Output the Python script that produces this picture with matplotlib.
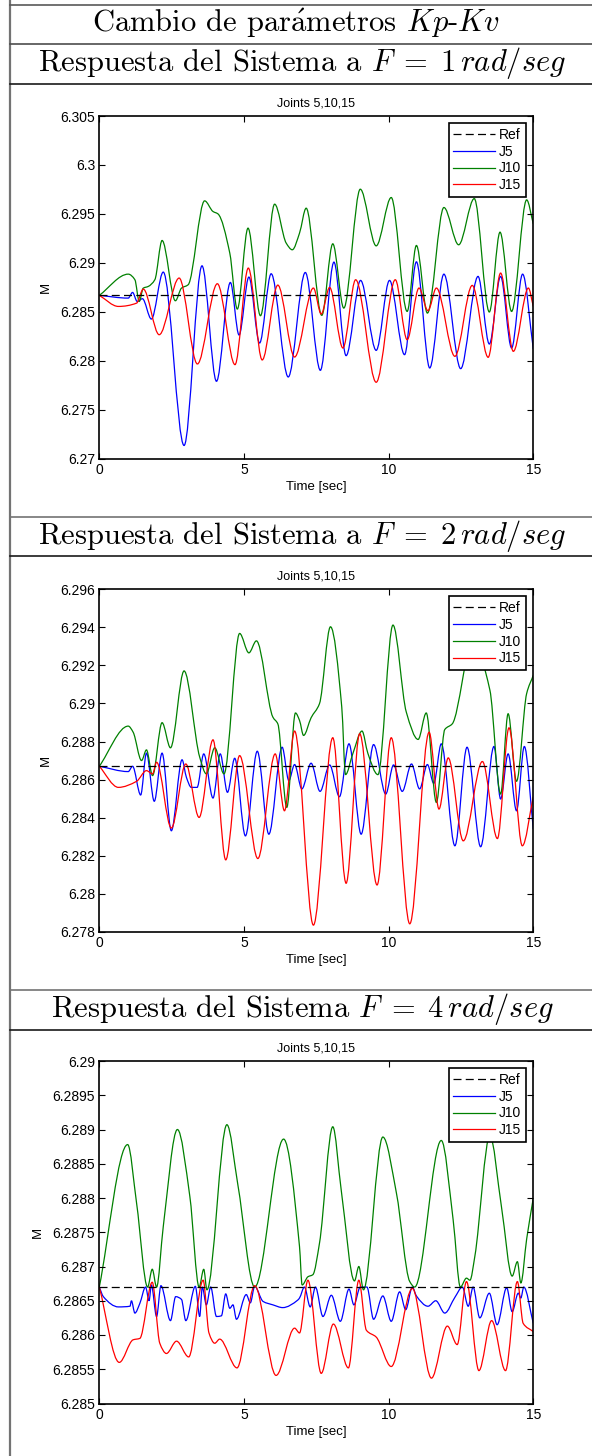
import matplotlib
matplotlib.use("Agg")
import matplotlib.pyplot as plt
from matplotlib.lines import Line2D
from matplotlib.path import Path
from matplotlib.patches import PathPatch

plt.rcParams["mathtext.fontset"] = "cm"
plt.rcParams["font.family"] = ["Liberation Sans", "DejaVu Sans"]

REF = 6.2867

# ---------------- panel 1 : F = 1 rad/seg ----------------
t1_j5 = [0, 1.00, 1.15, 1.31, 1.49, 1.80, 2.21, 2.93, 3.55, 4.05, 4.53, 4.83, 5.17, 5.54, 5.94, 6.53,
         7.12, 7.64, 8.11, 8.53, 9.03, 9.57, 10.03, 10.55, 10.96, 11.42, 11.91, 12.49, 13.09, 13.48,
         13.87, 14.25, 14.63, 15.0]
y1_j5 = [6.28667, 6.28639, 6.28697, 6.28605, 6.28633, 6.28425, 6.28905, 6.27133, 6.28969, 6.27789,
         6.28799, 6.28262, 6.28854, 6.28180, 6.28888, 6.27833, 6.28901, 6.27901, 6.29007, 6.28051,
         6.28820, 6.28105, 6.28820, 6.28061, 6.29010, 6.27925, 6.28884, 6.27918, 6.28861, 6.28170,
         6.28861, 6.28129, 6.28884, 6.28119]
t1_j10 = [0, 1.00, 1.23, 1.38, 1.52, 1.69, 1.92, 2.17, 2.63, 2.84, 3.07, 3.64, 3.93, 4.10, 4.51, 4.77,
          5.14, 5.57, 6.06, 6.46, 6.67, 6.92, 7.15, 7.69, 8.07, 8.45, 9.02, 9.57, 10.09, 10.64, 10.96,
          11.34, 11.91, 12.42, 12.96, 13.48, 13.85, 14.25, 14.77, 15.0]
y1_j10 = [6.28667, 6.28884, 6.28827, 6.28605, 6.28741, 6.28758, 6.28827, 6.29228, 6.28612, 6.28741,
          6.28775, 6.29633, 6.29524, 6.29500, 6.29099, 6.28527, 6.29354, 6.28459, 6.29599, 6.29201,
          6.29133, 6.29303, 6.29558, 6.28463, 6.29194, 6.28537, 6.29752, 6.29173, 6.29667, 6.28503,
          6.29177, 6.28486, 6.29565, 6.29184, 6.29656, 6.28497, 6.29313, 6.28503, 6.29643, 6.29398]
t1_j15 = [0, 0.66, 1.29, 1.52, 2.07, 2.76, 3.39, 4.08, 4.69, 5.15, 5.63, 6.17, 6.75, 7.40, 7.67, 7.96,
          8.42, 8.86, 9.57, 10.23, 10.64, 11.05, 11.36, 11.65, 12.29, 12.89, 13.44, 13.87, 14.31,
          14.83, 15.0]
y1_j15 = [6.28667, 6.28554, 6.28588, 6.28731, 6.28265, 6.28844, 6.27966, 6.28786, 6.27959, 6.28946,
          6.28007, 6.28772, 6.28037, 6.28742, 6.28476, 6.28748, 6.28129, 6.28827, 6.27779, 6.28827,
          6.28214, 6.28742, 6.28510, 6.28742, 6.28044, 6.28769, 6.28034, 6.28895, 6.28095, 6.28742,
          6.28554]

# ---------------- panel 2 : F = 2 rad/seg ----------------
t2_j5 = [0, 1.00, 1.15, 1.43, 1.63, 1.90, 2.17, 2.49, 2.86, 3.01, 3.18, 3.38, 3.61, 3.93, 4.18, 4.43,
         4.68, 5.05, 5.46, 5.86, 6.32, 6.55, 6.75, 7.00, 7.32, 7.63, 7.96, 8.30, 8.63, 9.05, 9.48,
         9.90, 10.17, 10.47, 10.79, 11.07, 11.34, 11.56, 11.82, 12.29, 12.71, 13.18, 13.64, 13.87,
         14.13, 14.42, 14.69, 15.0]
y2_j5 = [6.28670, 6.28642, 6.28670, 6.28519, 6.28739, 6.28486, 6.28739, 6.28331, 6.28704, 6.28612,
         6.28559, 6.28559, 6.28735, 6.28503, 6.28735, 6.28533, 6.28712, 6.28304, 6.28749, 6.28313,
         6.28770, 6.28595, 6.28679, 6.28551, 6.28686, 6.28538, 6.28677, 6.28510, 6.28788, 6.28313,
         6.28784, 6.28524, 6.28677, 6.28538, 6.28682, 6.28551, 6.28679, 6.28580, 6.28788, 6.28252,
         6.28770, 6.28247, 6.28774, 6.28498, 6.28735, 6.28436, 6.28774, 6.28340]
t2_j10 = [0, 1.00, 1.17, 1.46, 1.63, 1.84, 2.17, 2.46, 2.93, 3.47, 3.70, 3.99, 4.31, 4.85, 5.17, 5.43,
          6.00, 6.17, 6.48, 6.78, 6.92, 7.06, 7.32, 7.61, 7.99, 8.38, 8.51, 8.76, 9.08, 9.28, 9.63,
          10.15, 10.61, 11.02, 11.30, 11.65, 11.94, 12.20, 12.90, 13.50, 13.87, 14.13, 14.42, 14.77,
          15.0]
y2_j10 = [6.28670, 6.28881, 6.28849, 6.28700, 6.28756, 6.28621, 6.28899, 6.28767, 6.29171, 6.28718,
          6.28630, 6.28767, 6.28630, 6.29368, 6.29266, 6.29329, 6.28928, 6.28893, 6.28454, 6.28950,
          6.28911, 6.28832, 6.28925, 6.28999, 6.29403, 6.28981, 6.28626, 6.28735, 6.28855, 6.28739,
          6.28626, 6.29412, 6.28955, 6.28811, 6.28950, 6.28480, 6.28863, 6.28893, 6.29320, 6.29070,
          6.28524, 6.28946, 6.28591, 6.29052, 6.29148]
t2_j15 = [0, 0.66, 1.29, 1.63, 1.84, 1.98, 2.49, 2.99, 3.45, 3.93, 4.37, 4.85, 5.48, 6.08, 6.40, 6.75,
          7.40, 8.07, 8.53, 9.00, 9.60, 10.09, 10.73, 11.40, 11.74, 12.06, 12.58, 13.24, 13.76,
          14.16, 14.62, 15.0]
y2_j15 = [6.28670, 6.28559, 6.28591, 6.28647, 6.28630, 6.28691, 6.28345, 6.28682, 6.28401, 6.28809,
          6.28178, 6.28726, 6.28185, 6.28735, 6.28436, 6.28855, 6.27835, 6.28820, 6.28055, 6.28841,
          6.28046, 6.28820, 6.27842, 6.28849, 6.28445, 6.28714, 6.28278, 6.28695, 6.28290, 6.28872,
          6.28252, 6.28510]

# ---------------- panel 3 : F = 4 rad/seg ----------------
t3_j5 = [0, 0.14, 0.66, 1.06, 1.11, 1.23, 1.40, 1.60, 1.72, 1.80, 1.98, 2.13, 2.46, 2.64, 2.84, 2.99,
         3.32, 3.47, 3.56, 3.70, 3.85, 4.05, 4.22, 4.37, 4.51, 4.62, 4.74, 5.08, 5.22, 5.37, 5.66,
         6.00, 6.34, 6.86, 6.92, 7.09, 7.29, 7.47, 7.73, 8.02, 8.33, 8.63, 8.80, 9.02, 9.25, 9.48,
         9.80, 10.09, 10.38, 10.59, 10.82, 10.96, 11.36, 11.63, 11.94, 12.29, 12.55, 12.75, 12.92,
         13.15, 13.48, 13.75, 14.08, 14.27, 14.48, 14.57, 14.67, 15.0]
y3_j5 = [6.28670, 6.28656, 6.28641, 6.28642, 6.28650, 6.28632, 6.28646, 6.28670, 6.28650, 6.28673,
         6.28627, 6.28672, 6.28621, 6.28656, 6.28652, 6.28621, 6.28671, 6.28627, 6.28670, 6.28644,
         6.28670, 6.28627, 6.28628, 6.28660, 6.28639, 6.28644, 6.28623, 6.28659, 6.28647, 6.28671,
         6.28649, 6.28644, 6.28640, 6.28651, 6.28654, 6.28670, 6.28641, 6.28670, 6.28627, 6.28658,
         6.28620, 6.28667, 6.28644, 6.28670, 6.28670, 6.28623, 6.28657, 6.28620, 6.28663, 6.28637,
         6.28670, 6.28657, 6.28642, 6.28650, 6.28632, 6.28655, 6.28670, 6.28642, 6.28670, 6.28625,
         6.28661, 6.28615, 6.28669, 6.28634, 6.28661, 6.28654, 6.28670, 6.28617]
t3_j10 = [0, 0.98, 1.29, 1.67, 1.83, 1.98, 2.21, 2.70, 3.13, 3.45, 3.61, 3.72, 4.41, 4.79, 5.37, 6.37,
          6.92, 7.01, 7.21, 7.38, 7.61, 8.07, 8.36, 8.82, 8.97, 9.13, 9.80, 10.27, 10.73, 10.90,
          11.82, 12.23, 12.48, 12.69, 12.81, 12.98, 13.50, 13.90, 14.27, 14.45, 14.57, 14.77, 15.0]
y3_j10 = [6.28670, 6.28878, 6.28792, 6.28670, 6.28696, 6.28670, 6.28758, 6.28900, 6.28802, 6.28670,
          6.28696, 6.28666, 6.28907, 6.28819, 6.28670, 6.28886, 6.28729, 6.28673, 6.28685, 6.28688,
          6.28734, 6.28904, 6.28812, 6.28679, 6.28700, 6.28666, 6.28889, 6.28807, 6.28678, 6.28670,
          6.28884, 6.28768, 6.28670, 6.28683, 6.28680, 6.28715, 6.28891, 6.28787, 6.28686, 6.28707,
          6.28676, 6.28740, 6.28800]
t3_j15 = [0, 0.69, 1.17, 1.40, 1.83, 2.09, 2.32, 2.67, 3.09, 3.59, 3.79, 3.99, 4.16, 4.76, 5.37, 6.11,
          6.75, 6.92, 7.21, 7.67, 8.09, 8.61, 8.97, 9.23, 9.57, 10.09, 10.82, 11.48, 12.03, 12.37,
          12.69, 13.12, 13.56, 14.04, 14.45, 14.65, 15.0]
y3_j15 = [6.28670, 6.28560, 6.28593, 6.28595, 6.28677, 6.28588, 6.28573, 6.28591, 6.28568, 6.28680,
          6.28603, 6.28588, 6.28594, 6.28552, 6.28672, 6.28541, 6.28610, 6.28603, 6.28680, 6.28544,
          6.28616, 6.28552, 6.28680, 6.28607, 6.28597, 6.28554, 6.28668, 6.28537, 6.28613, 6.28586,
          6.28678, 6.28548, 6.28621, 6.28548, 6.28678, 6.28617, 6.28605]

headers = [r"Respuesta del Sistema a $F\;=\;1\,rad/seg$",
           r"Respuesta del Sistema a $F\;=\;2\,rad/seg$",
           r"Respuesta del Sistema $F\;=\;4\,rad/seg$"]
yticks = [[6.27 + 0.005 * i for i in range(8)],
          [6.278 + 0.002 * i for i in range(10)],
          [6.285 + 0.0005 * i for i in range(11)]]
panels = [((t1_j5, y1_j5), (t1_j10, y1_j10), (t1_j15, y1_j15)),
          ((t2_j5, y2_j5), (t2_j10, y2_j10), (t2_j15, y2_j15)),
          ((t3_j5, y3_j5), (t3_j10, y3_j10), (t3_j15, y3_j15))]


def smooth_path(t, y):
    # draw the read points as a monotone cubic bezier path (flat at the extrema)
    n = len(t)
    h = [t[i + 1] - t[i] for i in range(n - 1)]
    d = [(y[i + 1] - y[i]) / h[i] for i in range(n - 1)]
    m = [0.0] * n
    m[0], m[-1] = d[0], d[-1]
    for i in range(1, n - 1):
        if d[i - 1] * d[i] <= 0:
            m[i] = 0.0
        else:
            w1 = 2 * h[i] + h[i - 1]
            w2 = h[i] + 2 * h[i - 1]
            m[i] = (w1 + w2) / (w1 / d[i - 1] + w2 / d[i])
    verts = [(t[0], y[0])]
    codes = [Path.MOVETO]
    for i in range(n - 1):
        verts += [(t[i] + h[i] / 3, y[i] + m[i] * h[i] / 3),
                  (t[i + 1] - h[i] / 3, y[i + 1] - m[i + 1] * h[i] / 3),
                  (t[i + 1], y[i + 1])]
        codes += [Path.CURVE4] * 3
    return Path(verts, codes)


W, H = 592, 1456
fig = plt.figure(figsize=(W / 100, H / 100), dpi=100)


def px(x, y):
    return x / W, 1 - y / H


# table borders
fig.add_artist(Line2D([10 / W, 10 / W], [0, 1], color="0.45", lw=1.6))
for yy, c in [(5, "0.35"), (44, "0.3"), (84, "0.1"), (517, "0.45"), (556, "0.1"),
              (990, "0.45"), (1030, "0.1")]:
    fig.add_artist(Line2D([10 / W, 1], [1 - yy / H] * 2, color=c, lw=1.2))

fig.text(*px(296, 23), r"Cambio de par$\acute{\mathrm{a}}$metros $Kp$-$Kv$",
         fontfamily="cmr10", fontsize=22, ha="center", va="center")
for yy, s in zip([63, 536, 1009], headers):
    fig.text(*px(302, yy), s, fontfamily="cmr10", fontsize=22, ha="center", va="center")

tops = [116, 589.3, 1061]
colors = ["#0000ff", "#008000", "#ff0000"]
names = ["J5", "J10", "J15"]
for k in range(3):
    top = tops[k]
    ax = fig.add_axes([99.3 / W, 1 - (top + 342.5) / H, 434 / W, 342.5 / H])
    ref_line, = ax.plot([0, 15], [REF, REF], "--", color="k", lw=0.9, dashes=(6.4, 3.4),
                        label="Ref")
    handles = [ref_line]
    for (tt, yv), c, n in zip(panels[k], colors, names):
        ax.add_patch(PathPatch(smooth_path(tt, yv), fill=False, edgecolor=c, lw=0.9))
        handles.append(Line2D([], [], color=c, lw=0.9, label=n))
    ax.set_xlim(0, 15)
    ax.set_ylim(yticks[k][0], yticks[k][-1])
    ax.set_xticks([0, 5, 10, 15])
    ax.set_yticks(yticks[k])
    ax.set_yticklabels(["%g" % round(v, 5) for v in yticks[k]])
    ax.tick_params(direction="in", top=True, right=True, length=4, width=0.8,
                   labelsize=10, pad=3)
    for sp in ax.spines.values():
        sp.set_linewidth(1.2)
    ax.set_title("Joints 5,10,15", fontsize=9, pad=7)
    ax.set_xlabel("Time [sec]", fontsize=9.5, labelpad=3)
    ax.set_ylabel("M", fontsize=9.5, labelpad=6)
    leg = ax.legend(handles=handles, loc="upper right", fontsize=10, handlelength=3.0,
                    labelspacing=0.2, borderpad=0.35, handletextpad=0.3, fancybox=False,
                    framealpha=1, borderaxespad=0.5)
    leg.get_frame().set_edgecolor("k")
    leg.get_frame().set_linewidth(1.2)

fig.savefig("out.png", dpi=100)
